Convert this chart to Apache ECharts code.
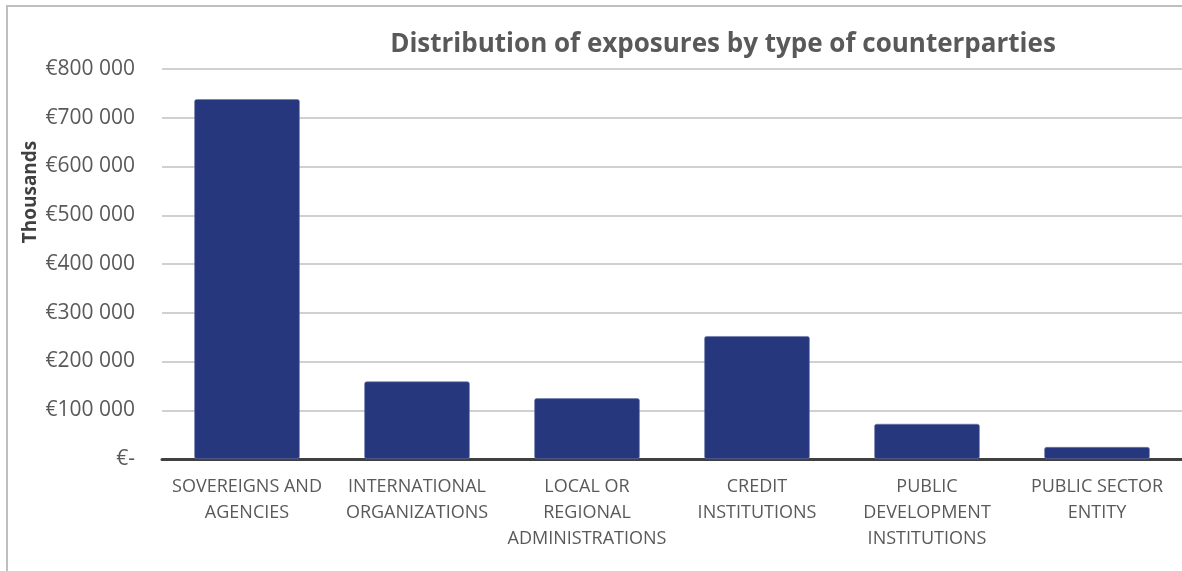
<!DOCTYPE html>
<html>
<head>
<meta charset="utf-8">
<script src="https://cdn.jsdelivr.net/npm/echarts@6/dist/echarts.min.js"></script>
<style>
  html, body { margin: 0; padding: 0; background: #ffffff; overflow: hidden; }
  #chart { width: 1176px; height: 566px; position: relative; box-sizing: border-box;
           border-top: 2px solid #bfbfbf; border-left: 2px solid #bfbfbf; margin: 5px 0 0 6px; }
</style>
</head>
<body>
<div id="chart"></div>
<script>
// Counterparty types (x-axis categories)
const categories = [
  'SOVEREIGNS AND\nAGENCIES',
  'INTERNATIONAL\nORGANIZATIONS',
  'LOCAL OR\nREGIONAL\nADMINISTRATIONS',
  'CREDIT\nINSTITUTIONS',
  'PUBLIC\nDEVELOPMENT\nINSTITUTIONS',
  'PUBLIC SECTOR\nENTITY'
];
// Exposure per counterparty type, in thousands of euros
const exposures = [738000, 159000, 124500, 252000, 72000, 24500];
// Value-axis ticks
const yTicks = [0, 100000, 200000, 300000, 400000, 500000, 600000, 700000, 800000];

const fmtEuro = v => v === 0 ? '€-' : '€' + String(v).replace(/\B(?=(\d{3})+(?!\d))/g, ' ');

const chart = echarts.init(document.getElementById('chart'), null, { renderer: 'canvas' });

const textColor = '#595959';
const font = 'Open Sans';

chart.setOption({
  animation: false,
  title: {
    text: 'Distribution of exposures by type of counterparties',
    left: 710, top: 20, textAlign: 'center',
    textStyle: { fontFamily: font, fontWeight: 'bold', fontSize: 26, color: textColor }
  },
  graphic: [{
    type: 'text',
    x: 23, y: 185, rotation: Math.PI / 2,
    style: { text: 'Thousands', fontFamily: font, fontWeight: 'bold', fontSize: 19,
             fill: '#404040', align: 'center', verticalAlign: 'middle' }
  }],
  grid: { left: 154, right: 0, top: 62, bottom: 112, containLabel: false },
  xAxis: {
    type: 'category',
    data: categories,
    axisLine: { lineStyle: { color: '#404040', width: 3 } },
    axisTick: { show: false },
    axisLabel: { interval: 0, margin: 15, lineHeight: 26, color: textColor,
                 fontFamily: font, fontSize: 18 }
  },
  yAxis: {
    type: 'value',
    min: yTicks[0], max: yTicks[yTicks.length - 1], interval: 100000,
    axisLine: { show: false },
    axisTick: { show: false },
    splitLine: { lineStyle: { color: '#d0d0d0', width: 2 } },
    axisLabel: { margin: 27, color: textColor, fontFamily: font, fontSize: 21,
                 formatter: fmtEuro }
  },
  series: [{
    type: 'bar',
    data: exposures,
    barWidth: '62%',
    itemStyle: { color: '#27377d', borderColor: '#6c78aa', borderWidth: 0.6, borderRadius: 2 }
  }]
});
</script>
</body>
</html>
